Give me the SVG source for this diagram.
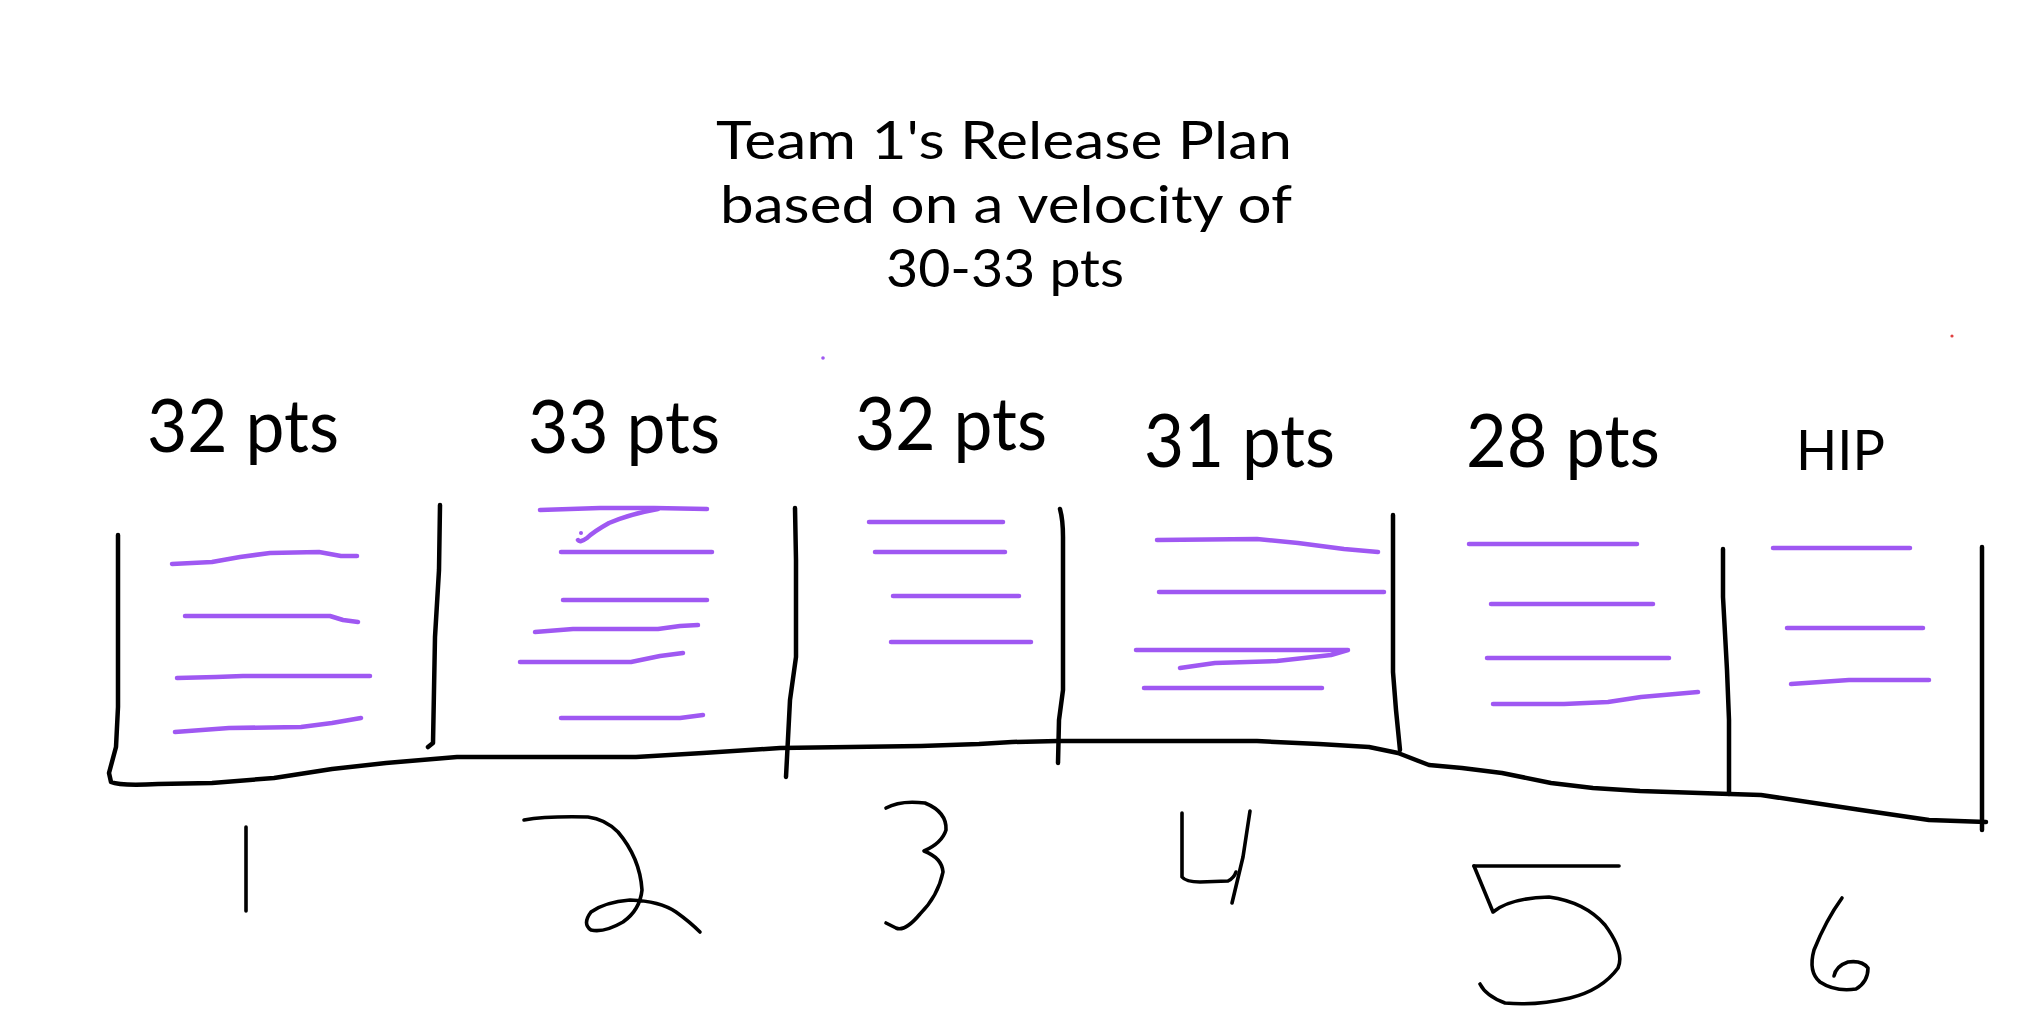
<svg xmlns="http://www.w3.org/2000/svg" width="2028" height="1036" viewBox="0 0 2028 1036">
<style>
.t{font-family:Lato,"Noto Sans","Liberation Sans",sans-serif;fill:#000;}
.ttl{font-size:53px;text-anchor:middle;}
.lbl{font-size:73px;}
.ink{fill:none;stroke:#000;stroke-width:4.5;stroke-linecap:round;stroke-linejoin:round;}
.num{fill:none;stroke:#000;stroke-width:3.6;stroke-linecap:round;stroke-linejoin:round;}
.st{fill:none;stroke:#9f58f2;stroke-width:4.5;stroke-linecap:round;stroke-linejoin:round;}
</style>
<rect width="2028" height="1036" fill="#fff"/>
<g id="title">
<text class="t ttl" x="1004" y="159" textLength="576" lengthAdjust="spacingAndGlyphs">Team 1's Release Plan</text>
<text class="t ttl" x="1006" y="223" textLength="572" lengthAdjust="spacingAndGlyphs">based on a velocity of</text>
<text class="t ttl" x="1005" y="287" textLength="238" lengthAdjust="spacingAndGlyphs">30-33 pts</text>
</g>
<g id="frame">
<path class="ink" d="M118,535 L118,707 L116,747 L109,773 L111,782 Q120,786 158,784 L212,783 L274,778 L332,769 L386,763 L457,757 L636,757 L703,753 L780,748 L850,747 L921,746 L979,744 L1012,742 L1058,741 L1257,741 L1319,744 L1369,747 L1398,753 L1429,765 L1462,768 L1502,773 L1551,783 L1593,788 L1640,791 L1730,794 L1761,795 L1861,810 L1929,820 L1986,822"/>
<path class="ink" d="M440,505 L439,570 L435,637 L433,743 L428,747"/>
<path class="ink" d="M795,508 L796,560 L796,657 L790,700 L786,777"/>
<path class="ink" d="M1060,509 Q1063,520 1063,537 L1063,690 L1059,720 L1058,763"/>
<path class="ink" d="M1393,515 L1393,672 L1396,710 L1400,750"/>
<path class="ink" d="M1723,549 L1723,597 L1727,670 L1729,720 L1729,794"/>
<path class="ink" d="M1982,547 L1982,830"/>
</g>
<g id="col1">
<text class="t lbl" x="147" y="452" textLength="192" lengthAdjust="spacingAndGlyphs">32 pts</text>
<path class="st" d="M172,564 L212,562 L240,557 L270,553 L319,552 L341,556 L357,556"/>
<path class="st" d="M185,616 L330,616 L343,620 L358,622"/>
<path class="st" d="M177,678 L216,677 L243,676 L370,676"/>
<path class="st" d="M175,732 L229,728 L301,727 L332,723 L361,718"/>
<path class="num" d="M246,827 L246,911"/>
</g>
<g id="col2">
<text class="t lbl" x="528" y="453" textLength="192" lengthAdjust="spacingAndGlyphs">33 pts</text>
<path class="st" d="M540,510 L600,508 L654,508 L707,509"/>
<path class="st" d="M658,509 Q630,514 609,523 Q593,532 587,538 Q580,543 578,540"/>
<circle cx="581" cy="533" r="2" fill="#9f58f2"/>
<path class="st" d="M561,552 L712,552"/>
<path class="st" d="M563,600 L707,600"/>
<path class="st" d="M535,632 L573,629 L658,629 L680,626 L698,625"/>
<path class="st" d="M520,662 L631,662 L660,656 L683,653"/>
<path class="st" d="M561,718 L680,718 L703,715"/>
<path class="num" d="M524,820 Q546,816 588,817 Q605,819 618,832 Q640,858 642,890 Q640,910 623,922 Q604,933 591,930 Q582,924 591,912 Q605,902 630,900 Q660,901 676,912 Q690,922 700,932"/>
</g>
<g id="col3">
<text class="t lbl" x="855" y="450" textLength="192" lengthAdjust="spacingAndGlyphs">32 pts</text>
<path class="st" d="M869,522 L1003,522"/>
<path class="st" d="M875,552 L1005,552"/>
<path class="st" d="M893,596 L1019,596"/>
<path class="st" d="M891,642 L1031,642"/>
<path class="num" d="M886,808 Q900,800 925,803 Q947,812 946,830 Q942,843 924,851 Q942,858 943,872 Q938,896 920,914 Q905,932 896,928 L886,923"/>
</g>
<g id="col4">
<text class="t lbl" x="1144" y="467" textLength="191" lengthAdjust="spacingAndGlyphs">31 pts</text>
<path class="st" d="M1157,540 L1257,539 L1298,543 L1344,549 L1378,552"/>
<path class="st" d="M1159,592 L1384,592"/>
<path class="st" d="M1136,650 L1348,650 L1331,655 L1277,661 L1215,663 L1180,668"/>
<path class="st" d="M1144,688 L1322,688"/>
<path class="num" d="M1182,813 L1182,877 Q1186,882 1200,882 L1228,881 Q1234,878 1236,872"/>
<path class="num" d="M1250,811 L1243,857 L1232,903"/>
</g>
<g id="col5">
<text class="t lbl" x="1466" y="467" textLength="194" lengthAdjust="spacingAndGlyphs">28 pts</text>
<path class="st" d="M1469,544 L1637,544"/>
<path class="st" d="M1491,604 L1653,604"/>
<path class="st" d="M1487,658 L1669,658"/>
<path class="st" d="M1493,704 L1564,704 L1608,702 L1641,697 L1698,692"/>
<path class="num" d="M1474,866 L1619,866"/>
<path class="num" d="M1474,866 L1493,912 Q1510,898 1549,897 Q1585,902 1605,925 Q1625,952 1618,968 Q1602,990 1570,998 Q1535,1006 1505,1003 Q1486,996 1480,984"/>
</g>
<g id="col6">
<text class="t" x="1796" y="470" font-size="57" textLength="89" lengthAdjust="spacingAndGlyphs">HIP</text>
<path class="st" d="M1773,548 L1910,548"/>
<path class="st" d="M1787,628 L1923,628"/>
<path class="st" d="M1791,684 L1849,680 L1929,680"/>
<path class="num" d="M1842,898 Q1826,920 1814,950 Q1808,972 1820,982 Q1835,992 1856,989 Q1868,982 1868,968 Q1862,960 1848,962 Q1836,966 1834,976"/>
</g>
<g id="marks">
<circle cx="823" cy="358" r="1.8" fill="#9f58f2"/>
<circle cx="1952" cy="336" r="1.6" fill="#e04040"/>
</g>
</svg>
